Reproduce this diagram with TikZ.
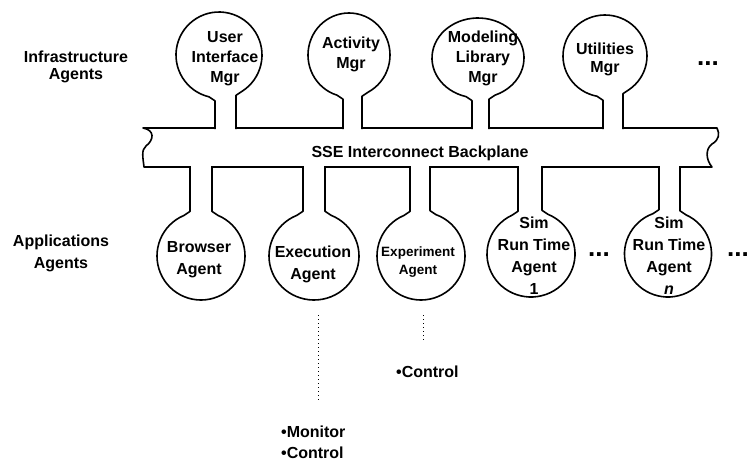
\documentclass[tikz,border=0pt]{standalone}
\usepackage{fontspec}
\setmainfont{Liberation Sans}
\tikzset{
  outline/.style={line width=1.6pt, line join=round, fill=white},
  agenttext/.style={font=\bfseries\fontsize{16}{20}\selectfont, align=center, inner sep=0pt},
  lowtext/.style={font=\bfseries\fontsize{16}{22}\selectfont, align=center, inner sep=0pt},
  sidetext/.style={font=\bfseries\fontsize{16}{17}\selectfont, align=center, inner sep=0pt},
  plain/.style={font=\bfseries\fontsize{16}{20}\selectfont, inner sep=0pt},
  ellip/.style={font=\bfseries\fontsize{26}{26}\selectfont, inner sep=0pt, anchor=base west},
  dotline/.style={line width=1pt, dash pattern=on 1pt off 3pt},
}
% Agent hanging above the backplane: name, cx, cy, rx, ry, stem left x, stem right x
\newcommand\upperagent[7]{%
  \pgfmathsetmacro\angL{acos((#6-6-#2)/#4)}%
  \pgfmathsetmacro\angR{360+acos((#7+6-#2)/#4)}%
  \pgfmathsetmacro\shL{#3+#5*sin(\angL)+4}%
  \pgfmathsetmacro\shR{#3+#5*sin(\angR)+4}%
  \coordinate (#1-c) at (#2,#3);
  \draw[outline] (#6,129) -- (#6,\shL) -- ([shift={(#2,#3)}]\angL:#4 and #5)
    arc[start angle=\angL, end angle=\angR, x radius=#4, y radius=#5]
    -- (#7,\shR) -- (#7,129);
}
% Agent hanging below the backplane: same arguments
\newcommand\loweragent[7]{%
  \pgfmathsetmacro\angL{360-acos((#6-6-#2)/#4)}%
  \pgfmathsetmacro\angR{-acos((#7+6-#2)/#4)}%
  \pgfmathsetmacro\shL{#3+#5*sin(\angL)-4}%
  \pgfmathsetmacro\shR{#3+#5*sin(\angR)-4}%
  \coordinate (#1-c) at (#2,#3);
  \draw[outline] (#6,166) -- (#6,\shL) -- ([shift={(#2,#3)}]\angL:#4 and #5)
    arc[start angle=\angL, end angle=\angR, x radius=#4, y radius=#5]
    -- (#7,\shR) -- (#7,166);
}
\begin{document}
\begin{tikzpicture}[x=1pt, y=-1pt]
\useasboundingbox (0,0) rectangle (750,464);

% interconnect backplane with broken ends
\draw[line width=1.6pt, line join=round]
  (143,128) -- (717,128)
  .. controls (720,134) and (719,140) .. (712,144)
  .. controls (705,149) and (706,160) .. (712,167)
  -- (144,167)
  .. controls (143,158) and (141,150) .. (146,146)
  .. controls (154,140) and (155,130) .. (143,128) -- cycle;
\node[plain, anchor=base] (bus) at (420,157.8) {SSE Interconnect Backplane};

% infrastructure agents
\upperagent{ui}{219}{55}{43}{43}{215}{236}
\upperagent{act}{349}{55}{41}{42}{343}{362}
\upperagent{mlib}{478}{58}{46}{40}{472}{489}
\upperagent{util}{605}{56}{42}{41}{603}{623}

% application agents
\loweragent{brw}{201}{256}{44}{44}{190}{212}
\loweragent{exe}{314}{256}{45}{44}{303}{325}
\loweragent{expt}{421}{256}{44}{44}{410}{430}
\loweragent{sim1}{531}{254}{44}{43}{518}{542}
\loweragent{simn}{668}{254}{43.5}{43}{659}{680}

% agent names
\node[agenttext] (ui) at (225,58.2) {User\\Interface\\Mgr};
\node[agenttext] (act) at (351,54.7) {Activity\\Mgr};
\node[agenttext] (mlib) at (483,58.2) {Modeling\\Library\\Mgr};
\node[agenttext, font=\bfseries\fontsize{16}{18}\selectfont] (util) at (605,59.6) {Utilities\\Mgr};

\node[lowtext] (brw) at (199,259.6) {Browser\\Agent};
\node[lowtext] (exe) at (313,264.5) {Execution\\Agent};
\node[lowtext, font=\bfseries\fontsize{13.5}{18}\selectfont] (expt) at (418,262.4) {Experiment\\Agent};
\node[lowtext] (sim1) at (534,256) {Sim\\Run Time\\Agent\\1};
\node[lowtext] (simn) at (669,256) {Sim\\Run Time\\Agent\\\textit{n}};

% group labels
\node[sidetext] (infra) at (76,67) {Infrastructure\\Agents};
\node[sidetext, font=\bfseries\fontsize{16}{22}\selectfont] (apps) at (61,253.6) {Applications\\Agents};

% continuation marks
\node[ellip] (moreinfra) at (697,65) {...};
\node[ellip] (moresim) at (588,256) {...};
\node[ellip] (moreapps) at (727,256) {...};

% interface annotations
\node[plain, anchor=base west] (mon1) at (281,437.7) {•Monitor};
\node[plain, anchor=base west] (mon2) at (281,458.7) {•Control};
\node[plain, anchor=base west] (ctl) at (396,377.7) {•Control};

\coordinate (exe-tap) at (318,315);
\coordinate (mon-tap) at (318,403);
\coordinate (expt-tap) at (423,315);
\coordinate (ctl-tap) at (423,342);
\draw[dotline] (exe-tap) -- (mon-tap);
\draw[dotline] (expt-tap) -- (ctl-tap);
\end{tikzpicture}
\end{document}
